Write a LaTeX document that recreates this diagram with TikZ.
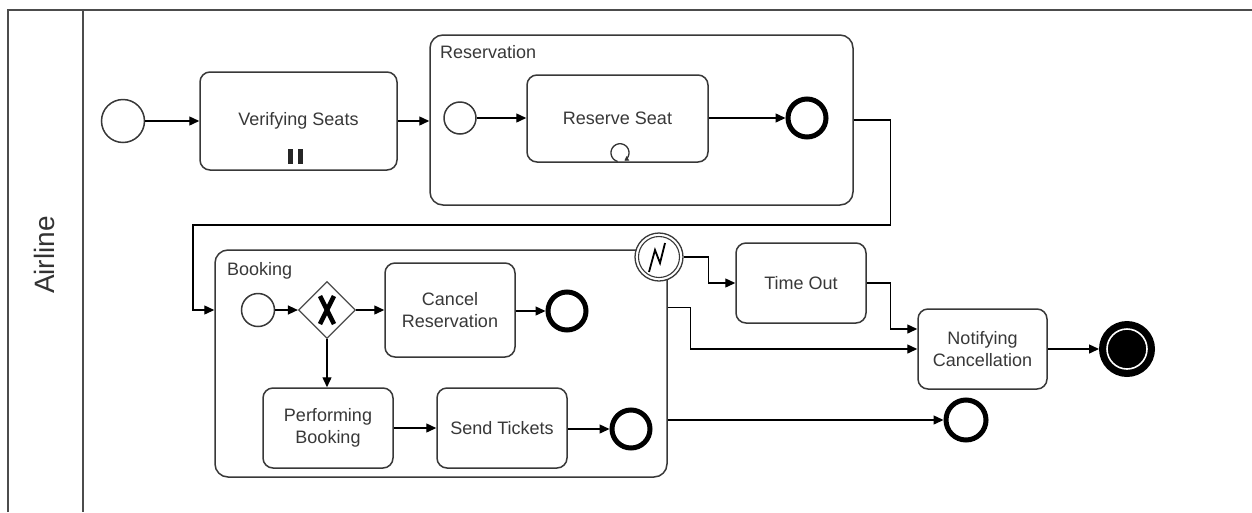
\documentclass[tikz,border=0pt]{standalone}
\usepackage{fontspec}
\setmainfont{Liberation Sans}
\usetikzlibrary{arrows.meta,shapes.geometric,calc}

\begin{document}
\begin{tikzpicture}[x=1pt,y=-1pt,
  lbl/.style={font=\fontsize{18}{22}\selectfont, text=black!78},
  task/.style={draw=black!78, line width=1.5pt, rounded corners=10pt, align=center, inner sep=0pt, fill=white, lbl},
  subproc/.style={draw=black!78, line width=1.5pt, rounded corners=13pt, inner sep=0pt},
  startev/.style={circle, draw=black!78, line width=1.5pt, inner sep=0pt, fill=white},
  endev/.style={circle, draw=black, line width=5pt, inner sep=0pt, fill=white},
  flow/.style={draw=black, line width=1.4pt, -{Triangle[length=10pt,width=9pt]}},
  lane/.style={draw=black!70, line width=2pt}
]
\useasboundingbox (0,0) rectangle (1252,512);

% pool and lane header
\coordinate (pooltl) at (8,10);
\coordinate (pooltr) at (1252,10);
\coordinate (poolbl) at (8,512);
\coordinate (hdrt) at (83,10);
\coordinate (hdrb) at (83,512);
\draw[lane] (poolbl) -- (pooltl) -- (pooltr);
\draw[lane] (hdrt) -- (hdrb);
\node[rotate=90, font=\fontsize{28}{30}\selectfont, text=black!80] (lanename) at (44,255) {Airline};

% top row
\node[startev, minimum size=43pt] (start) at (123,121) {};
\node[task, minimum width=197pt, minimum height=98pt] (vs) at (298.5,121) {Verifying Seats};
\fill[black!85] ($(vs.south)+(-10.5,-22)$) rectangle ++(5,15);
\fill[black!85] ($(vs.south)+(-0.5,-22)$) rectangle ++(5,15);

% Reservation sub-process
\node[subproc, minimum width=423pt, minimum height=170pt] (res) at (641.5,120) {};
\node[lbl, anchor=base west, inner sep=0pt] (reslbl) at (440,58) {Reservation};
\node[startev, minimum size=32pt] (resstart) at (460,118) {};
\node[task, minimum width=181pt, minimum height=87pt] (rs) at (617.5,118.5) {Reserve Seat};
% loop marker of the task
\coordinate (loopc) at ($(rs.south)+(2.5,-10)$);
\draw[shift={(loopc)}, black!80, line width=1.3pt, -{Triangle[length=4pt,width=5pt]}]
  plot[domain=105:420, samples=40, smooth] ({9*cos(\x)},{9*sin(\x)});
\node[endev, minimum size=38pt] (resend) at (807,118) {};

% Booking sub-process
\node[subproc, minimum width=452pt, minimum height=227pt] (book) at (441,363.5) {};
\node[lbl, anchor=base west, inner sep=0pt] (booklbl) at (227,275) {Booking};
\node[startev, minimum size=33pt] (bstart) at (258,310) {};
\node[diamond, draw=black!70, line width=1.2pt, minimum width=57pt, minimum height=57pt, inner sep=0pt, fill=white] (gw) at (327,310) {};
\draw[line width=4.5pt] ($(gw.center)+(-7,-14)$) -- ($(gw.center)+(7,14)$);
\draw[line width=4.5pt] ($(gw.center)+(7,-14)$) -- ($(gw.center)+(-7,14)$);
\node[task, minimum width=130pt, minimum height=94pt] (cancel) at (450,310) {Cancel\\Reservation};
\node[endev, minimum size=38pt] (cancelend) at (567,311) {};
\node[task, minimum width=130pt, minimum height=80pt] (perf) at (328,428) {Performing\\Booking};
\node[task, minimum width=130pt, minimum height=80pt] (send) at (502,428) {Send Tickets};
\node[endev, minimum size=38pt] (sendend) at (631,429) {};

% boundary error event
\node[circle, draw=black!78, line width=1.3pt, minimum size=48pt, inner sep=0pt, fill=white] (err) at (659,257) {};
\draw[black!78, line width=1.1pt] (err.center) circle[radius=20.5pt];
\draw[line width=1.8pt, line join=miter] ($(err.center)+(-10,15)$) -- ($(err.center)+(-4,-7)$)
  -- ($(err.center)+(1,6)$) -- ($(err.center)+(6,-14)$);

% right-hand tasks and end events
\node[task, minimum width=130pt, minimum height=80pt] (timeout) at (801,283) {Time Out};
\node[task, minimum width=129pt, minimum height=80pt] (notify) at (982.5,349) {Notifying\\Cancellation};
\node[endev, minimum size=40pt] (bookend) at (966,420) {};
\node[circle, draw=black, fill=black, line width=3pt, minimum size=53pt, inner sep=0pt] (final) at (1127,349) {};
\draw[white, line width=1.6pt] (final.center) circle[radius=20pt];

% sequence flows
\coordinate (route) at (193,225);
\draw[flow] (start) -- (vs);
\draw[flow] (vs.east) -- (res.west |- vs.east);
\draw[flow] (resstart) -- (rs.west |- resstart);
\draw[flow] (rs.east |- resend) -- (resend);
\draw[flow] (res.east) -- ++(37,0) |- (route) |- (book.west |- bstart.center);
\draw[flow] (bstart) -- (gw);
\draw[flow] (gw) -- (cancel);
\draw[flow] (cancel.east |- cancelend) -- (cancelend);
\draw[flow] (gw) -- (perf.north -| gw);
\draw[flow] (perf) -- (send);
\draw[flow] (send.east |- sendend) -- (sendend);
\draw[flow] (err.east) -- ++(25,0) |- (timeout.west);
\draw[flow] (timeout.east) -- ++(24,0) |- ($(notify.west)+(0,-20)$);
\draw[flow] ($(book.east)+(0,-56)$) -- ++(23,0) |- (notify.west);
\draw[flow] (book.east |- bookend) -- (bookend);
\draw[flow] (notify) -- (final);
\end{tikzpicture}
\end{document}
